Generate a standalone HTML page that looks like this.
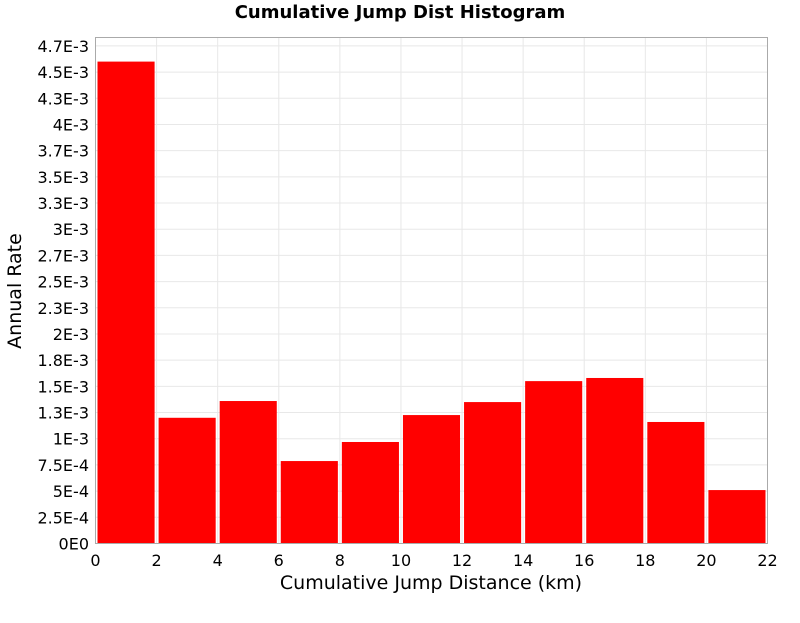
<!DOCTYPE html>
<html><head><meta charset="utf-8"><style>body{margin:0;background:#fff}svg{font-family:"DejaVu Sans","Liberation Sans",sans-serif}</style></head>
<body>
<svg id="c" width="800" height="600"></svg>
<script>
const binStarts=[0,2,4,6,8,10,12,14,16,18,20];
const rates=[4.60e-3,1.20e-3,1.36e-3,0.787e-3,0.969e-3,1.226e-3,1.35e-3,1.55e-3,1.58e-3,1.16e-3,0.51e-3];
const binWidth=2;
const yTickVals=[0,2.5e-4,5e-4,7.5e-4,1e-3,1.25e-3,1.5e-3,1.75e-3,2e-3,2.25e-3,2.5e-3,2.75e-3,3e-3,3.25e-3,3.5e-3,3.75e-3,4e-3,4.25e-3,4.5e-3,4.75e-3];
const yTickLabels=["0E0","2.5E-4","5E-4","7.5E-4","1E-3","1.3E-3","1.5E-3","1.8E-3","2E-3","2.3E-3","2.5E-3","2.7E-3","3E-3","3.3E-3","3.5E-3","3.7E-3","4E-3","4.3E-3","4.5E-3","4.7E-3"];
const xTickVals=[0,2,4,6,8,10,12,14,16,18,20,22];
const L=95.5,R=767.5,T=37.5,B=543.5,xMax=22,yMax=4.83e-3;
const xs=v=>L+(R-L)*v/xMax, ys=v=>B-(B-T)*v/yMax;
const svg=document.getElementById('c');const NS='http://www.w3.org/2000/svg';
function mk(t,a,p){const e=document.createElementNS(NS,t);for(const k in a)e.setAttribute(k,a[k]);(p||svg).appendChild(e);return e;}
const grid=mk('g',{});
yTickVals.forEach(v=>mk('line',{x1:L,x2:R,y1:ys(v),y2:ys(v),stroke:'#e8e8e8'},grid));
xTickVals.forEach(v=>mk('line',{x1:xs(v),x2:xs(v),y1:T,y2:B,stroke:'#e8e8e8'},grid));
const bars=mk('g',{});
binStarts.forEach((s,i)=>{const x0=xs(s)+2,x1=xs(s+binWidth)-2;const r=mk('rect',{x:x0,y:ys(rates[i]),width:x1-x0,height:B-ys(rates[i]),fill:'#ff0000'},bars);
});
const f=mk('rect',{x:L,y:T,width:R-L,height:B-T,fill:'none',stroke:'#aaa'});
const yt=mk('g',{'font-size':'16',fill:'#000','text-anchor':'end'});
yTickVals.forEach((v,i)=>{const t=mk('text',{x:89,y:ys(v)+6},yt);t.textContent=yTickLabels[i];});
const xt=mk('g',{'font-size':'16',fill:'#000','text-anchor':'middle'});
xTickVals.forEach(v=>{const t=mk('text',{x:xs(v),y:566},xt);t.textContent=v;});
</script>
<svg width="0" height="0"></svg>
<div style="position:absolute;left:0;top:0;width:800px;height:600px;pointer-events:none;font-family:'DejaVu Sans','Liberation Sans',sans-serif">
<div style="position:absolute;left:0;width:800px;top:2px;text-align:center;font-weight:bold;font-size:18px">Cumulative Jump Dist Histogram</div>
<div style="position:absolute;left:95px;width:672px;top:572px;text-align:center;font-size:19px">Cumulative Jump Distance (km)</div>
<div style="position:absolute;left:-85px;top:280px;width:200px;text-align:center;font-size:19px;transform:rotate(-90deg)">Annual Rate</div>
</div>
</body></html>
